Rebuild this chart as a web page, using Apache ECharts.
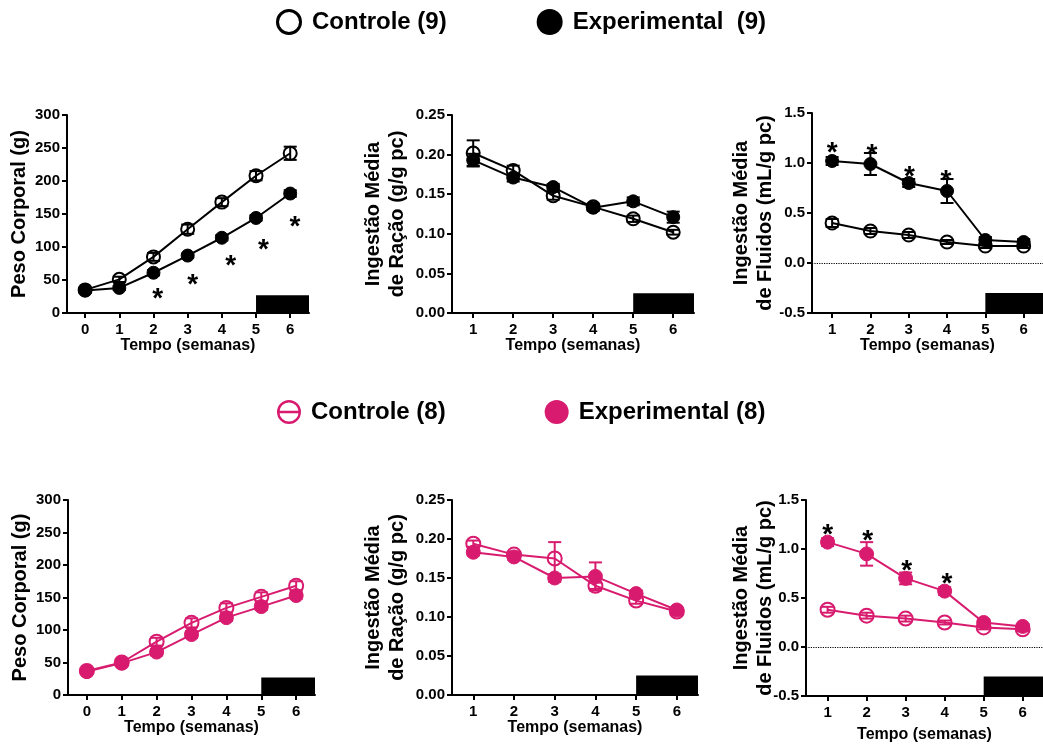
<!DOCTYPE html>
<html><head><meta charset="utf-8">
<script src="https://cdn.jsdelivr.net/npm/echarts@6/dist/echarts.min.js"></script>
<style>html,body{margin:0;padding:0;background:#fff}#c{width:1043px;height:745px}</style>
</head><body><div id="c"></div>
<script>
// ---------- data ----------
const weeksPeso = [0, 1, 2, 3, 4, 5, 6];
const weeksIngest = [1, 2, 3, 4, 5, 6];
const legendTop = ['Controle (9)', 'Experimental  (9)'];
const legendBottom = ['Controle (8)', 'Experimental (8)'];

// top row (n = 9)
const pesoCtrl9 = [35, 51, 85, 127, 168, 208, 242];
const pesoCtrl9Err = [3, 4, 6, 7, 6, 7, 10];
const pesoExp9 = [34, 38, 61, 87, 114, 144, 181];
const pesoExp9Err = [3, 3, 4, 3, 4, 4, 5];
const racaoCtrl9 = [0.202, 0.180, 0.148, 0.134, 0.119, 0.102];
const racaoCtrl9Err = [0.016, 0.006, 0.005, 0.004, 0.004, 0.003];
const racaoExp9 = [0.193, 0.171, 0.159, 0.133, 0.141, 0.121];
const racaoExp9Err = [0.008, 0.005, 0.004, 0.004, 0.005, 0.007];
const fluidCtrl9 = [0.40, 0.32, 0.28, 0.21, 0.17, 0.17];
const fluidCtrl9Err = [0.04, 0.03, 0.03, 0.02, 0.02, 0.02];
const fluidExp9 = [1.02, 0.99, 0.80, 0.72, 0.23, 0.21];
const fluidExp9Err = [0.04, 0.11, 0.04, 0.12, 0.03, 0.03];

// bottom row (n = 8)
const pesoCtrl8 = [37, 50, 82, 111, 134, 151, 168];
const pesoCtrl8Err = [3, 4, 6, 7, 7, 7, 7];
const pesoExp8 = [36, 49, 66, 93, 119, 136, 153];
const pesoExp8Err = [3, 3, 5, 5, 5, 5, 5];
const racaoCtrl8 = [0.194, 0.180, 0.175, 0.140, 0.121, 0.107];
const racaoCtrl8Err = [0.004, 0.004, 0.021, 0.004, 0.004, 0.004];
const racaoExp8 = [0.183, 0.177, 0.150, 0.152, 0.130, 0.109];
const racaoExp8Err = [0.004, 0.004, 0.005, 0.018, 0.004, 0.003];
const fluidCtrl8 = [0.38, 0.32, 0.29, 0.25, 0.20, 0.18];
const fluidCtrl8Err = [0.03, 0.03, 0.03, 0.02, 0.02, 0.02];
const fluidExp8 = [1.07, 0.95, 0.70, 0.57, 0.25, 0.21];
const fluidExp8Err = [0.04, 0.12, 0.06, 0.04, 0.03, 0.02];

// significance asterisks [week, value]
const starsPeso9 = [[2.12, 31], [3.15, 53], [4.26, 82], [5.22, 105], [6.14, 140]];
const starsFluid9 = [[1, 1.17], [2.04, 1.15], [3.02, 0.93], [3.97, 0.89]];
const starsFluid8 = [[1, 1.21], [2.03, 1.15], [3.03, 0.84], [4.06, 0.71]];

// black period bar: [start week, bottom, top]
const barPeso = [[5, 0, 27]];
const barRacao = [[5, 0, 0.025]];
const barFluid = [[5, -0.5, -0.3]];

// ---------- style ----------
const FONT = '"Liberation Sans", Arial, Helvetica, sans-serif';
const BLACK = '#000';
const MAG = '#d81b6f';
const RING = 'path://M13,0 A13,13 0 1,1 12.99,0 Z M13,3 A10,10 0 1,0 13.01,3 Z';
const RING_BAR = 'path://M13,0 A13,13 0 1,1 12.99,0 Z M13,2.6 A10.4,10.4 0 1,0 13.01,2.6 Z M2.6,11.7 H23.4 V14.3 H2.6 Z';

const grids = [
  {left: 67, top: 115, width: 242, height: 198},
  {left: 452, top: 115, width: 242, height: 198},
  {left: 812, top: 113, width: 240, height: 200},
  {left: 68, top: 500, width: 247, height: 195},
  {left: 452, top: 500, width: 246, height: 195},
  {left: 806, top: 500, width: 245, height: 196}
];

const xCfg = [
  {min: -0.53, max: 6.55, ticks: weeksPeso, gap: 25},
  {min: 0.47, max: 6.52, ticks: weeksIngest, gap: 25},
  {min: 0.475, max: 6.505, ticks: weeksIngest, gap: 25},
  {min: -0.54, max: 6.54, ticks: weeksPeso, gap: 22},
  {min: 0.477, max: 6.52, ticks: weeksIngest, gap: 24},
  {min: 0.447, max: 6.52, ticks: weeksIngest, gap: 31}
];
const yCfg = [
  {min: 0, max: 300, interval: 50, dec: 0, name: 'Peso Corporal (g)', gap: 36},
  {min: 0, max: 0.25, interval: 0.05, dec: 2, name: 'Ingestão Média\nde Ração (g/g pc)', gap: 43},
  {min: -0.5, max: 1.5, interval: 0.5, dec: 1, name: 'Ingestão Média\nde Fluidos (mL/g pc)', gap: 35},
  {min: 0, max: 300, interval: 50, dec: 0, name: 'Peso Corporal (g)', gap: 36},
  {min: 0, max: 0.25, interval: 0.05, dec: 2, name: 'Ingestão Média\nde Ração (g/g pc)', gap: 43},
  {min: -0.5, max: 1.5, interval: 0.5, dec: 1, name: 'Ingestão Média\nde Fluidos (mL/g pc)', gap: 29}
];

const xAxes = xCfg.map((c, i) => ({
  type: 'value', gridIndex: i, min: c.min, max: c.max,
  axisLine: {show: true, onZero: false, lineStyle: {color: BLACK, width: 2}},
  axisTick: {show: true, customValues: c.ticks, length: 5, lineStyle: {color: BLACK, width: 2}},
  axisLabel: {customValues: c.ticks, margin: 9, color: BLACK, fontSize: 15, fontWeight: 'bold', fontFamily: FONT},
  splitLine: {show: false},
  name: 'Tempo (semanas)', nameLocation: 'middle', nameGap: c.gap,
  nameTextStyle: {color: BLACK, fontSize: 16, fontWeight: 'bold', fontFamily: FONT}
}));
const yAxes = yCfg.map((c, i) => ({
  type: 'value', gridIndex: i, min: c.min, max: c.max, interval: c.interval,
  axisLine: {show: true, onZero: false, lineStyle: {color: BLACK, width: 2}},
  axisTick: {show: true, length: 5, lineStyle: {color: BLACK, width: 2}},
  axisLabel: {margin: 7, color: BLACK, fontSize: 15, fontWeight: 'bold', fontFamily: FONT,
    formatter: v => Number(v).toFixed(c.dec)},
  splitLine: {show: false},
  name: c.name, nameLocation: 'middle', nameGap: c.gap, nameMoveOverlap: false,
  nameTextStyle: {color: BLACK, fontSize: 20, fontWeight: 'bold', fontFamily: FONT, lineHeight: 24}
}));

function pairs(xs, ys) { return xs.map((x, i) => [x, ys[i]]); }
function triples(xs, ys, es) { return xs.map((x, i) => [x, ys[i], es[i]]); }

function errSeries(idx, xs, ys, es, color, z) {
  return {
    type: 'custom', xAxisIndex: idx, yAxisIndex: idx, z: z, silent: true,
    data: triples(xs, ys, es), encode: {x: 0, y: 1},
    renderItem: (p, api) => {
      const x = api.value(0), y = api.value(1), e = api.value(2);
      const t = api.coord([x, y + e]), b = api.coord([x, y - e]);
      const w = 6.5, st = {stroke: color, lineWidth: 2};
      return {type: 'group', children: [
        {type: 'line', shape: {x1: t[0], y1: t[1], x2: b[0], y2: b[1]}, style: st},
        {type: 'line', shape: {x1: t[0] - w, y1: t[1], x2: t[0] + w, y2: t[1]}, style: st},
        {type: 'line', shape: {x1: b[0] - w, y1: b[1], x2: b[0] + w, y2: b[1]}, style: st}
      ]};
    }
  };
}
function lineSeries(idx, name, xs, ys, color, open, size, z) {
  return {
    type: 'line', name: name, xAxisIndex: idx, yAxisIndex: idx, z: z,
    data: pairs(xs, ys), symbol: 'circle', symbolSize: size, showSymbol: true,
    lineStyle: {color: color, width: 2},
    itemStyle: open ? {color: 'transparent', borderColor: color, borderWidth: 2}
                    : {color: color, borderColor: color, borderWidth: 1},
    emphasis: {disabled: true}
  };
}
function barSeries(idx, data) {
  return {
    type: 'custom', xAxisIndex: idx, yAxisIndex: idx, z: 1, silent: true,
    data: data, encode: {x: 0, y: 2},
    renderItem: (p, api) => {
      const cs = p.coordSys;
      const a = api.coord([api.value(0), api.value(2)]);
      const b = api.coord([api.value(0), api.value(1)]);
      return {type: 'rect', shape: {x: a[0], y: a[1], width: cs.x + cs.width - a[0], height: b[1] - a[1]},
        style: {fill: BLACK}};
    }
  };
}
function starSeries(idx, data) {
  return {
    type: 'custom', xAxisIndex: idx, yAxisIndex: idx, z: 10, silent: true,
    data: data, encode: {x: 0, y: 1},
    renderItem: (p, api) => {
      const pt = api.coord([api.value(0), api.value(1)]);
      return {type: 'text', x: pt[0], y: pt[1] + 7,
        style: {text: '*', fill: BLACK, font: 'bold 28px ' + FONT, align: 'center', verticalAlign: 'middle'}};
    }
  };
}
function zeroLine() {
  return {silent: true, symbol: 'none', label: {show: false},
    lineStyle: {type: 'dotted', color: BLACK, width: 1.2}, data: [{yAxis: 0}]};
}

function panel(idx, xs, ctrl, ctrlErr, exp, expErr, names, color, size, bar, stars, zero) {
  const s = [barSeries(idx, bar),
    errSeries(idx, xs, exp, expErr, color, 3),
    lineSeries(idx, names[1], xs, exp, color, false, size, 4),
    lineSeries(idx, names[0], xs, ctrl, color, true, size, 5),
    errSeries(idx, xs, ctrl, ctrlErr, color, 6)];
  if (stars) s.push(starSeries(idx, stars));
  if (zero) s[2].markLine = zeroLine();
  return s;
}

const series = [].concat(
  panel(0, weeksPeso, pesoCtrl9, pesoCtrl9Err, pesoExp9, pesoExp9Err, legendTop, BLACK, 13, barPeso, starsPeso9, false),
  panel(1, weeksIngest, racaoCtrl9, racaoCtrl9Err, racaoExp9, racaoExp9Err, legendTop, BLACK, 13, barRacao, null, false),
  panel(2, weeksIngest, fluidCtrl9, fluidCtrl9Err, fluidExp9, fluidExp9Err, legendTop, BLACK, 13, barFluid, starsFluid9, true),
  panel(3, weeksPeso, pesoCtrl8, pesoCtrl8Err, pesoExp8, pesoExp8Err, legendBottom, MAG, 14, barPeso, null, false),
  panel(4, weeksIngest, racaoCtrl8, racaoCtrl8Err, racaoExp8, racaoExp8Err, legendBottom, MAG, 14, barRacao, null, false),
  panel(5, weeksIngest, fluidCtrl8, fluidCtrl8Err, fluidExp8, fluidExp8Err, legendBottom, MAG, 14, barFluid, starsFluid8, true)
);

const legendText = {fontSize: 24, fontWeight: 'bold', color: BLACK, fontFamily: FONT, padding: [0, 0, 0, 5]};
const option = {
  animation: false,
  backgroundColor: '#fff',
  textStyle: {fontFamily: FONT},
  grid: grids,
  xAxis: xAxes,
  yAxis: yAxes,
  legend: [
    {left: 276, top: 9, padding: 0, itemWidth: 26, itemHeight: 26, itemGap: 90, selectedMode: false,
     textStyle: legendText,
     data: [
       {name: legendTop[0], icon: RING, itemStyle: {color: BLACK, borderWidth: 0}},
       {name: legendTop[1], icon: 'circle', itemStyle: {color: BLACK, borderWidth: 0}}
     ]},
    {left: 277, top: 400, padding: 0, itemWidth: 24, itemHeight: 24, itemGap: 99, selectedMode: false,
     textStyle: legendText,
     data: [
       {name: legendBottom[0], icon: RING_BAR, itemStyle: {color: MAG, borderWidth: 0}},
       {name: legendBottom[1], icon: 'circle', itemStyle: {color: MAG, borderWidth: 0}}
     ]}
  ],
  series: series
};
const chart = echarts.init(document.getElementById('c'), null, {renderer: 'canvas'});
chart.setOption(option);
</script></body></html>
